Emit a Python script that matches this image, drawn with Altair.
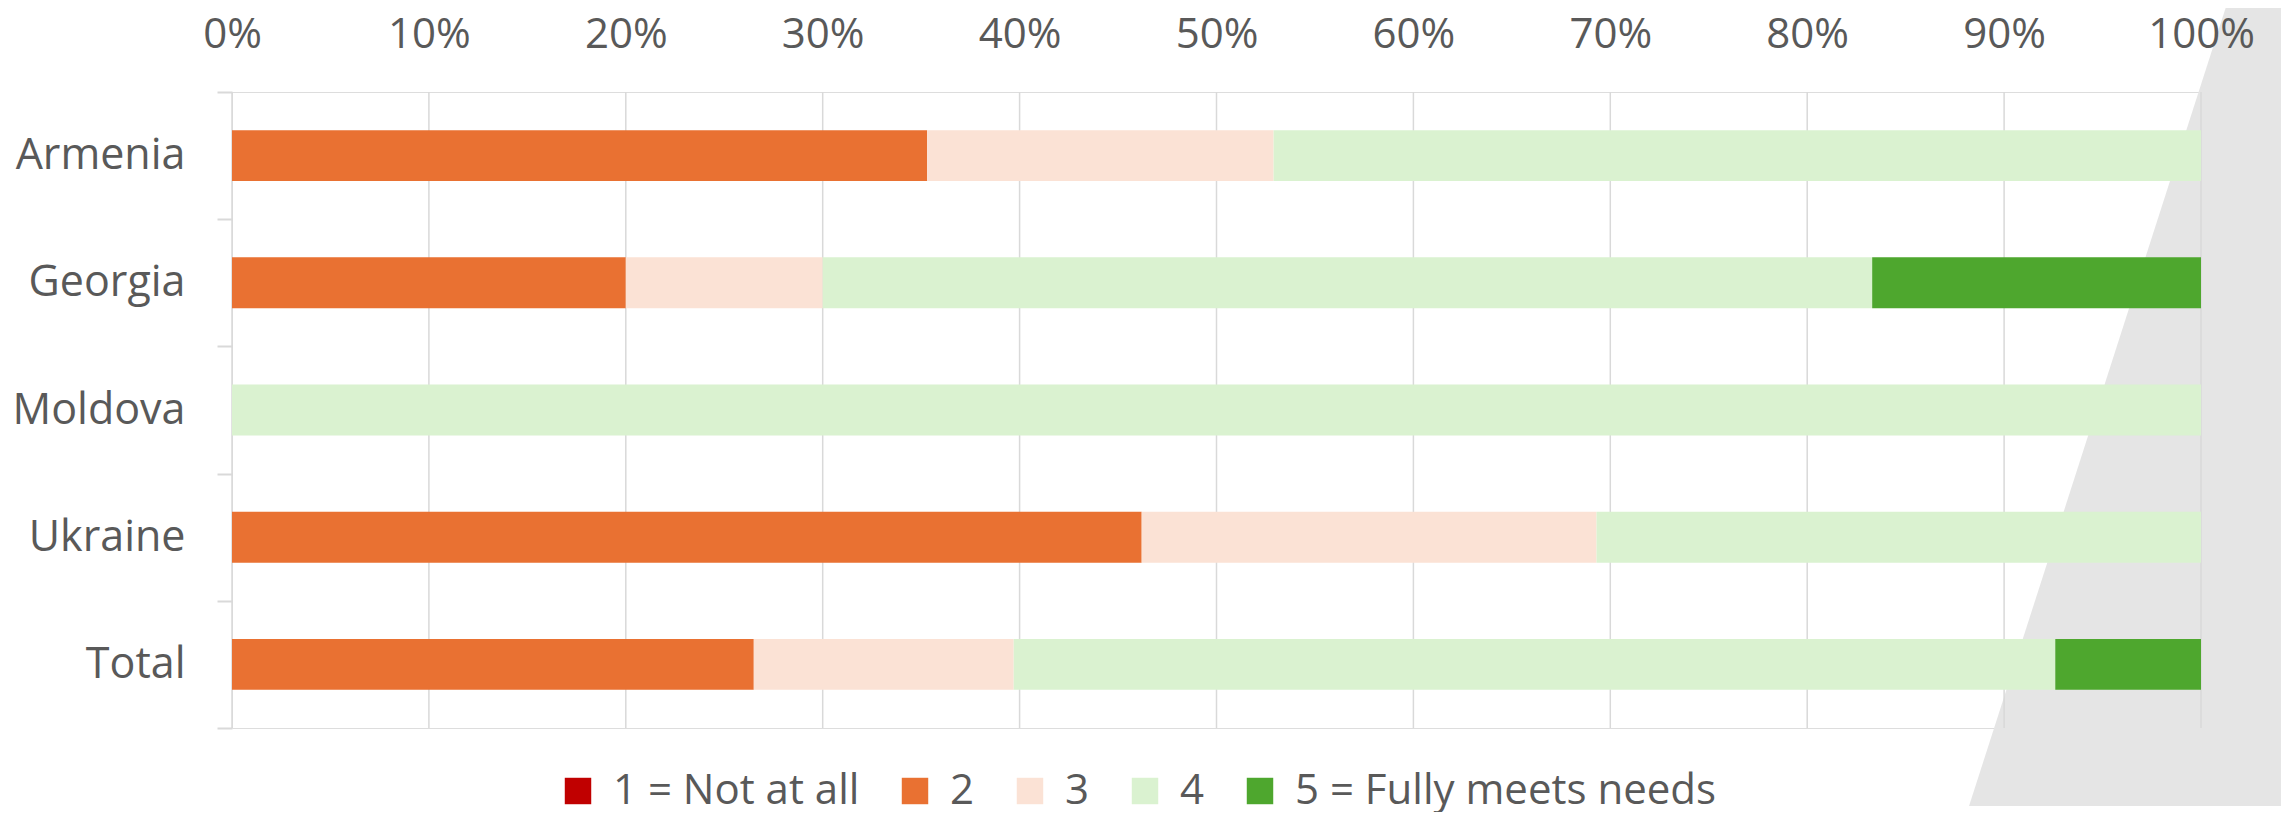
import altair as alt
import pandas as pd

countries = ["Armenia", "Georgia", "Moldova", "Ukraine", "Total"]
levels = ["1 = Not at all", "2", "3", "4", "5 = Fully meets needs"]
level_colors = ["#C00000", "#E97132", "#FBE2D5", "#DAF2D0", "#4EA72E"]

share_1 = [0.0, 0.0, 0.0, 0.0, 0.0]
share_2 = [0.353, 0.200, 0.0, 0.462, 0.265]
share_3 = [0.176, 0.100, 0.0, 0.231, 0.132]
share_4 = [0.471, 0.533, 1.0, 0.307, 0.529]
share_5 = [0.0, 0.167, 0.0, 0.0, 0.074]

x_ticks = [0.0, 0.1, 0.2, 0.3, 0.4, 0.5, 0.6, 0.7, 0.8, 0.9, 1.0]

# decorative grey band at the right (plot-relative units)
bg_y = [-84, 714]
bg_x_left = [1.0125, 0.8822]
bg_x_right = [1.0406, 1.0406]

FONT = "Open Sans"
TXT = "#595959"
GRID = "#d9d9d9"
W, H = 1969, 636

all_shares = [share_1, share_2, share_3, share_4, share_5]
rows = []
for li, (lev, vals) in enumerate(zip(levels, all_shares)):
    for c, v in zip(countries, vals):
        rows.append({"country": c, "level": lev, "idx": li, "share": v})
df = pd.DataFrame(rows)

bg = pd.DataFrame({"y": bg_y, "xl": bg_x_left, "xr": bg_x_right})
ticks_df = pd.DataFrame({"t": x_ticks})

xscale = alt.Scale(domain=[0, 1], nice=False, zero=False)
xaxis = alt.Axis(
    orient="top", title=None, format="%", values=x_ticks, labelFlush=False,
    domain=False, ticks=False, tickSize=0, grid=False, zindex=1,
    labelFontSize=42, labelColor=TXT, labelFont=FONT, labelPadding=36,
)

area = alt.Chart(bg).mark_area(orient="horizontal", color="#e5e5e5", clip=False).encode(
    y=alt.Y("y:Q", scale=alt.Scale(domain=[0, H], reverse=True, zero=False, nice=False), axis=None),
    x=alt.X("xl:Q", scale=xscale, axis=xaxis),
    x2="xr:Q",
)

rules = alt.Chart(ticks_df).mark_rule(color=GRID, strokeWidth=1.5).encode(
    x=alt.X("t:Q", scale=xscale, axis=xaxis)
)

bars = alt.Chart(df).mark_bar(height=alt.RelativeBandSize(band=0.4)).encode(
    y=alt.Y(
        "country:N",
        sort=countries,
        scale=alt.Scale(paddingInner=0, paddingOuter=0),
        axis=alt.Axis(
            title=None, domain=False, grid=False, ticks=True, tickBand="extent",
            tickSize=15, tickColor=GRID, tickWidth=2,
            labelFontSize=43, labelColor=TXT, labelFont=FONT, labelPadding=32,
        ),
    ),
    x=alt.X("share:Q", stack="zero", scale=xscale, axis=xaxis),
    color=alt.Color(
        "level:N",
        scale=alt.Scale(domain=levels, range=level_colors),
        legend=alt.Legend(
            orient="none", legendX=325, legendY=678, direction="horizontal", title=None,
            symbolType="square", symbolSize=700, symbolStrokeWidth=0, symbolOpacity=1,
            labelFontSize=42, labelColor=TXT, labelFont=FONT, columnPadding=34,
            labelOffset=14, padding=0, columns=5, labelLimit=0,
        ),
    ),
    order=alt.Order("idx:Q", sort="ascending"),
)

chart = alt.layer(area, rules, bars).resolve_scale(y="independent").properties(
    width=W, height=H, padding={"left": 4, "top": 0, "right": 0, "bottom": 0}
).configure_view(stroke=None).configure(font=FONT)

chart.save("out.html", embed_options={"renderer": "svg", "actions": False})
